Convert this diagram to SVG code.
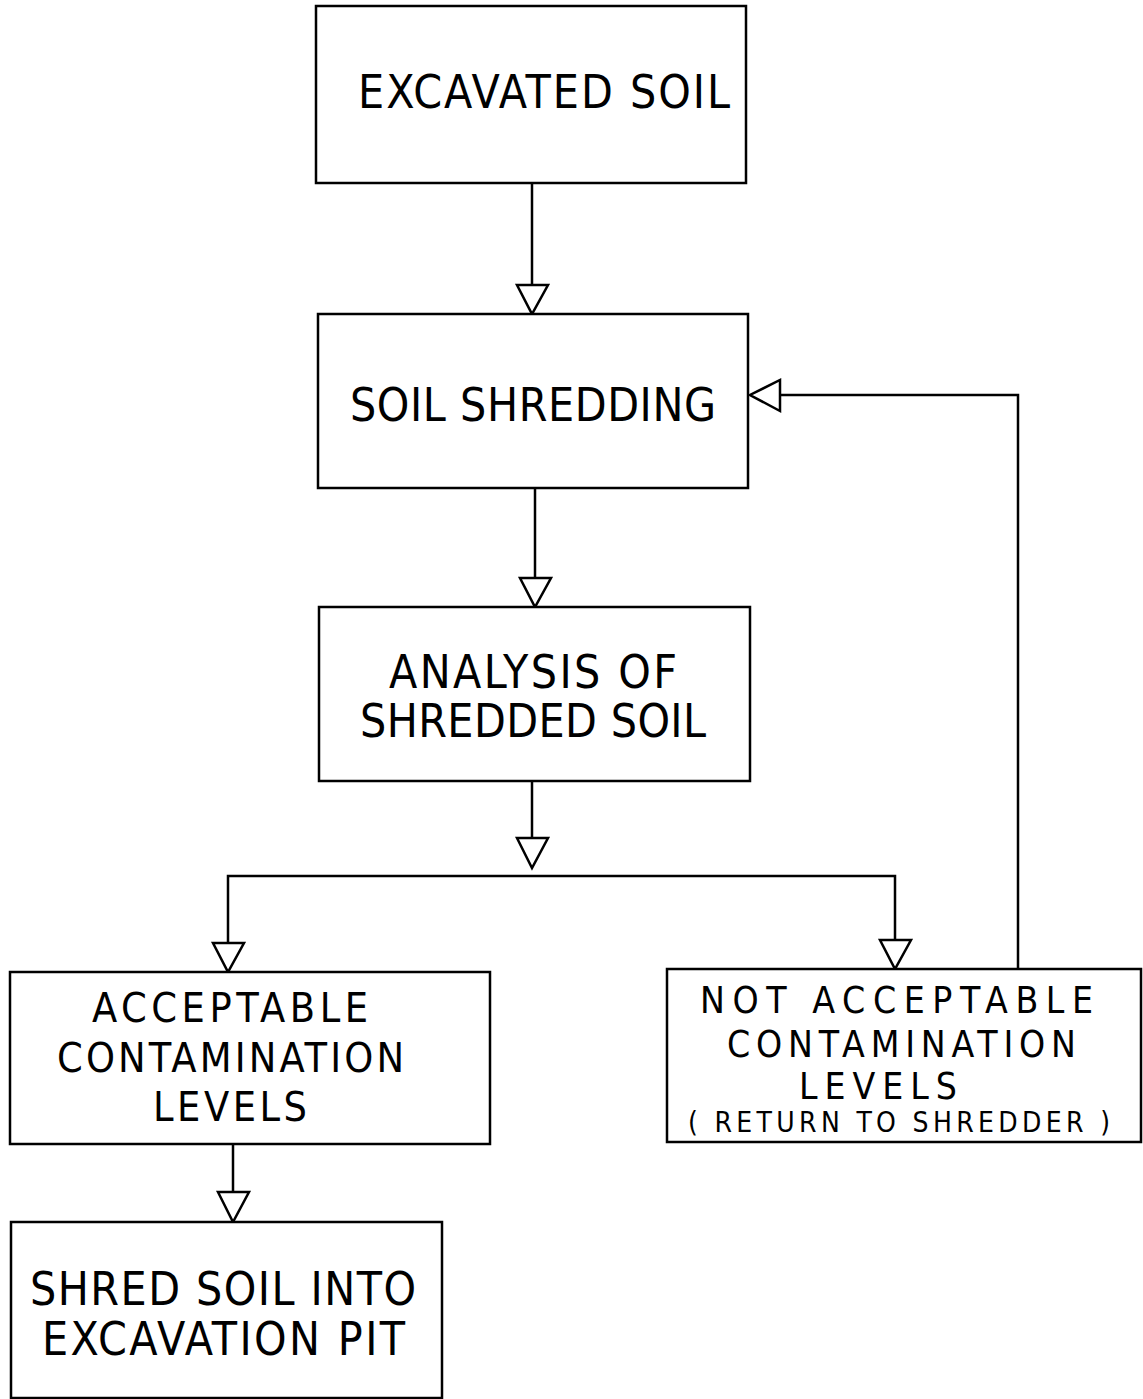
<svg xmlns="http://www.w3.org/2000/svg" width="1143" height="1399" viewBox="0 0 1143 1399">
<style>
.box{fill:#fff;stroke:#000;stroke-width:2.5}
.ln{fill:none;stroke:#000;stroke-width:2.5}
.ah{fill:#fff;stroke:#000;stroke-width:2.5;stroke-linejoin:miter}
text{font-family:"DejaVu Sans Condensed","Liberation Sans",Arial,sans-serif;fill:#000}
.t{font-size:46px}
.a{font-size:41px}
.r{font-size:37px}
.s{font-size:28px}
</style>
<rect width="1143" height="1399" fill="#fff"/>
<g id="connectors">
<line class="ln" x1="532" y1="183" x2="532" y2="285"/>
<polygon class="ah" points="517,285 548,285 532,314"/>
<line class="ln" x1="535" y1="488" x2="535" y2="578"/>
<polygon class="ah" points="520,578 551,578 535,607"/>
<line class="ln" x1="532" y1="781" x2="532" y2="838"/>
<polygon class="ah" points="517,838 548,838 532,868"/>
<polyline class="ln" points="228,943 228,876 895,876 895,940"/>
<polygon class="ah" points="213,943 244,943 228,972"/>
<polygon class="ah" points="880,940 911,940 895,969"/>
<polyline class="ln" points="1018,969 1018,395 780,395"/>
<polygon class="ah" points="780,380 780,411 750,395"/>
<line class="ln" x1="233" y1="1144" x2="233" y2="1192"/>
<polygon class="ah" points="218,1192 249,1192 233,1222"/>
</g>
<g id="excavated-soil">
<rect class="box" x="316" y="6" width="430" height="177"/>
<text class="t" x="358" y="108" textLength="372" lengthAdjust="spacing">EXCAVATED SOIL</text>
</g>
<g id="soil-shredding">
<rect class="box" x="318" y="314" width="430" height="174"/>
<text class="t" x="350" y="421" textLength="366" lengthAdjust="spacing">SOIL SHREDDING</text>
</g>
<g id="analysis">
<rect class="box" x="319" y="607" width="431" height="174"/>
<text class="t" x="389" y="688" textLength="288" lengthAdjust="spacing">ANALYSIS OF</text>
<text class="t" x="360" y="737" textLength="346" lengthAdjust="spacing">SHREDDED SOIL</text>
</g>
<g id="acceptable">
<rect class="box" x="10" y="972" width="480" height="172"/>
<text class="a" x="92" y="1022" textLength="276" lengthAdjust="spacing">ACCEPTABLE</text>
<text class="a" x="57" y="1072" textLength="347" lengthAdjust="spacing">CONTAMINATION</text>
<text class="a" x="153" y="1121" textLength="154" lengthAdjust="spacing">LEVELS</text>
</g>
<g id="not-acceptable">
<rect class="box" x="667" y="969" width="474" height="173"/>
<text class="r" x="700" y="1013" textLength="393" lengthAdjust="spacing">NOT ACCEPTABLE</text>
<text class="r" x="727" y="1057" textLength="349" lengthAdjust="spacing">CONTAMINATION</text>
<text class="r" x="799" y="1099" textLength="158" lengthAdjust="spacing">LEVELS</text>
<text class="s" x="688" y="1132" textLength="422" lengthAdjust="spacing">( RETURN TO SHREDDER )</text>
</g>
<g id="shred-into-pit">
<rect class="box" x="11" y="1222" width="431" height="176"/>
<text class="t" x="30" y="1305" textLength="386" lengthAdjust="spacing">SHRED SOIL INTO</text>
<text class="t" x="42" y="1355" textLength="363" lengthAdjust="spacing">EXCAVATION PIT</text>
</g>
</svg>
